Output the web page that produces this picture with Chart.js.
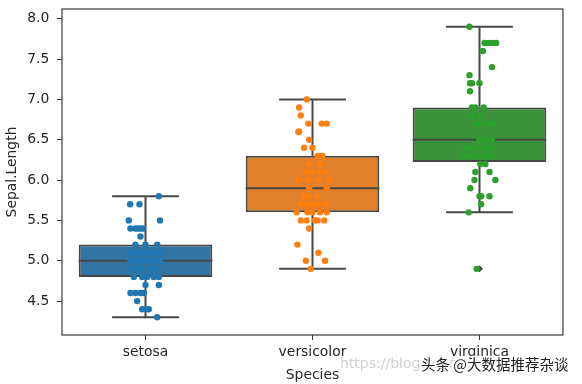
<!DOCTYPE html>
<html>
<head>
<meta charset="utf-8">
<script src="https://cdn.jsdelivr.net/npm/chart.js@4.4.0/dist/chart.umd.min.js"></script>
<style>
  html, body { margin: 0; padding: 0; background: #fff; }
</style>
</head>
<body>
<canvas id="myChart" width="582" height="384"></canvas>
<script>
const species = ["setosa", "versicolor", "virginica"];

// box statistics per species
const whiskerLow = [4.3, 4.9, 5.6];
const q1 = [4.8, 5.6, 6.225];
const median = [5.0, 5.9, 6.5];
const q3 = [5.2, 6.3, 6.9];
const whiskerHigh = [5.8, 7.0, 7.9];
const fliers = [[], [], [4.9]];

// strip points (values) and their horizontal jitter
const setosaValues = [4.3, 4.4, 4.4, 4.4, 4.5, 4.6, 4.6, 4.6, 4.6, 4.7, 4.7,
  4.8, 4.8, 4.8, 4.8, 4.8, 4.9, 4.9, 4.9, 4.9,
  5.0, 5.0, 5.0, 5.0, 5.0, 5.0, 5.0, 5.0,
  5.1, 5.1, 5.1, 5.1, 5.1, 5.1, 5.1, 5.1,
  5.2, 5.2, 5.2, 5.3, 5.4, 5.4, 5.4, 5.4, 5.4, 5.5, 5.5, 5.7, 5.7, 5.8];
const setosaJitter = [0.07, -0.02, 0.02, 0.005, -0.05, -0.09, -0.06, -0.03, -0.01, 0.0, 0.08,
  -0.07, -0.02, 0.01, 0.05, 0.08, -0.08, -0.03, 0.04, 0.06,
  -0.09, -0.065, -0.04, -0.015, 0.01, 0.035, 0.06, 0.085,
  -0.085, -0.055, -0.035, -0.01, 0.015, 0.04, 0.065, 0.09,
  -0.06, 0.0, 0.07, -0.03, -0.09, -0.06, -0.045, -0.03, -0.015, -0.1, 0.087, -0.092, -0.036, 0.08];

const versicolorValues = [4.9, 5.0, 5.0, 5.1, 5.2, 5.4,
  5.5, 5.5, 5.5, 5.5, 5.5, 5.6, 5.6, 5.6, 5.6, 5.6,
  5.7, 5.7, 5.7, 5.7, 5.7, 5.8, 5.8, 5.8, 5.9, 5.9,
  6.0, 6.0, 6.0, 6.0, 6.1, 6.1, 6.1, 6.1, 6.2, 6.2,
  6.3, 6.3, 6.3, 6.4, 6.4, 6.5, 6.6, 6.6, 6.7, 6.7, 6.7, 6.8, 6.9, 7.0];
const versicolorJitter = [-0.01, -0.04, 0.075, 0.035, -0.09, -0.02,
  -0.07, -0.035, 0.015, 0.03, 0.07, -0.095, -0.03, 0.0, 0.045, 0.085,
  -0.07, -0.035, -0.005, 0.035, 0.08, -0.045, -0.025, 0.03, -0.02, 0.085,
  -0.085, -0.025, 0.035, 0.095, -0.04, -0.005, 0.05, 0.075, -0.02, 0.045,
  0.03, 0.04, 0.06, -0.05, 0.0, -0.02, -0.085, -0.08, -0.025, 0.055, 0.085, -0.07, -0.08, -0.035];

const virginicaValues = [4.9, 5.6, 5.7, 5.8, 5.8, 5.8, 5.9, 6.0, 6.0, 6.1, 6.1, 6.2, 6.2,
  6.3, 6.3, 6.3, 6.3, 6.3, 6.3, 6.4, 6.4, 6.4, 6.4, 6.4,
  6.5, 6.5, 6.5, 6.5, 6.7, 6.7, 6.7, 6.7, 6.7, 6.8, 6.8, 6.9, 6.9, 6.9,
  7.1, 7.2, 7.2, 7.2, 7.3, 7.4, 7.6, 7.7, 7.7, 7.7, 7.7, 7.9];
const virginicaJitter = [-0.017, -0.065, 0.01, 0.0, 0.06, 0.01, -0.055, -0.03, 0.095, -0.025, 0.06, 0.035, 0.005,
  -0.095, -0.065, -0.025, 0.0, 0.045, 0.065, -0.085, -0.055, -0.025, 0.025, 0.065,
  0.0, 0.025, 0.05, 0.075, -0.015, 0.0, 0.045, 0.06, 0.085, -0.045, 0.0, -0.045, -0.025, 0.025,
  -0.057, -0.057, -0.045, 0.0, -0.06, 0.075, 0.02, 0.03, 0.055, 0.08, 0.1, -0.06];

const boxColors = ["#3274a1", "#e1812c", "#3a923a"];
const pointColors = ["#1f77b4", "#ff7f0e", "#2ca02c"];
const lineGray = "#474747";
const textColor = "#262626";
const font = { family: "DejaVu Sans", size: 13.9 };

function strip(values, jitter, i) {
  return values.map((v, k) => ({ x: i + jitter[k], y: v }));
}

// whiskers, caps and medians as one broken line
const segs = [];
for (let i = 0; i < species.length; i++) {
  segs.push({ x: i, y: whiskerLow[i] }, { x: i, y: q1[i] }, { x: i, y: null });
  segs.push({ x: i, y: q3[i] }, { x: i, y: whiskerHigh[i] }, { x: i, y: null });
  segs.push({ x: i - 0.2, y: whiskerLow[i] }, { x: i + 0.2, y: whiskerLow[i] }, { x: i, y: null });
  segs.push({ x: i - 0.2, y: whiskerHigh[i] }, { x: i + 0.2, y: whiskerHigh[i] }, { x: i, y: null });
  segs.push({ x: i - 0.4, y: median[i] }, { x: i + 0.4, y: median[i] }, { x: i, y: null });
}
const flierPts = [];
fliers.forEach((arr, i) => arr.forEach(v => flierPts.push({ x: i, y: v })));

const framePlugin = {
  id: 'frame',
  afterDraw(chart) {
    const { ctx, chartArea: a } = chart;
    ctx.save();
    ctx.strokeStyle = '#3a3a3a';
    ctx.lineWidth = 1.2;
    ctx.strokeRect(a.left, a.top, a.right - a.left, a.bottom - a.top);
    // watermark text
    ctx.font = '14px "DejaVu Sans"';
    ctx.fillStyle = 'rgba(205,205,205,0.9)';
    ctx.textBaseline = 'middle';
    ctx.fillText('https://blog.csdn.net/', 340, 364);
    ctx.font = '14.5px "Noto Sans CJK SC"';
    ctx.lineWidth = 3;
    ctx.strokeStyle = '#fff';
    ctx.strokeText('头条 @大数据推荐杂谈', 421, 364);
    ctx.fillStyle = '#222';
    ctx.fillText('头条 @大数据推荐杂谈', 421, 364);
    ctx.restore();
  }
};

const data = {
  datasets: [
    {
      type: 'bar',
      data: species.map((s, i) => ({ x: i, y: [q1[i], q3[i]] })),
      backgroundColor: boxColors,
      borderColor: lineGray,
      borderWidth: 2,
      borderSkipped: false,
      barPercentage: 0.8,
      categoryPercentage: 1.0,
      order: 3
    },
    {
      type: 'scatter',
      data: segs,
      showLine: true,
      spanGaps: false,
      borderColor: lineGray,
      borderWidth: 2,
      pointRadius: 0,
      order: 2
    },
    {
      type: 'scatter',
      data: flierPts,
      pointStyle: 'rectRot',
      pointRadius: 3.5,
      backgroundColor: lineGray,
      borderWidth: 0,
      order: 1
    },
    {
      type: 'scatter', data: strip(setosaValues, setosaJitter, 0),
      pointRadius: 3.2, backgroundColor: pointColors[0], borderWidth: 0, order: 0
    },
    {
      type: 'scatter', data: strip(versicolorValues, versicolorJitter, 1),
      pointRadius: 3.2, backgroundColor: pointColors[1], borderWidth: 0, order: 0
    },
    {
      type: 'scatter', data: strip(virginicaValues, virginicaJitter, 2),
      pointRadius: 3.2, backgroundColor: pointColors[2], borderWidth: 0, order: 0
    }
  ]
};

const config = {
  type: 'bar',
  data: data,
  options: {
    responsive: false,
    devicePixelRatio: 1,
    animation: false,
    events: [],
    layout: { padding: { left: 0, top: 9, right: 19, bottom: 0 } },
    plugins: {
      legend: { display: false },
      tooltip: { enabled: false }
    },
    scales: {
      x: {
        type: 'linear',
        min: -0.5,
        max: 2.5,
        offset: false,
        afterBuildTicks: scale => { scale.ticks = species.map((s, i) => ({ value: i })); },
        afterFit: scale => { scale.height = 49; scale.paddingLeft = 0; scale.paddingRight = 0; },
        ticks: { autoSkip: false, maxRotation: 0, color: textColor, font: font, padding: 4,
          callback: v => species[v] ?? '' },
        grid: { display: true, drawOnChartArea: false, offset: false, tickLength: 5, color: '#333' },
        border: { display: false },
        title: { display: true, text: 'Species', color: textColor, font: font, padding: { top: 1.6, bottom: 0 } }
      },
      y: {
        min: 4.08,
        max: 8.12,
        afterFit: scale => { scale.width = 62; scale.paddingTop = 0; scale.paddingBottom = 0; },
        ticks: { stepSize: 0.5, includeBounds: false, color: textColor, font: font, padding: 7.7,
          callback: v => v.toFixed(1) },
        grid: { display: true, drawOnChartArea: false, tickLength: 5, color: '#333' },
        border: { display: false },
        title: { display: true, text: 'Sepal.Length', color: textColor, font: font, padding: { top: 4, bottom: 6.5 } }
      }
    }
  },
  plugins: [framePlugin]
};

let myChart = new Chart(document.getElementById('myChart'), config);
</script>
</body>
</html>
